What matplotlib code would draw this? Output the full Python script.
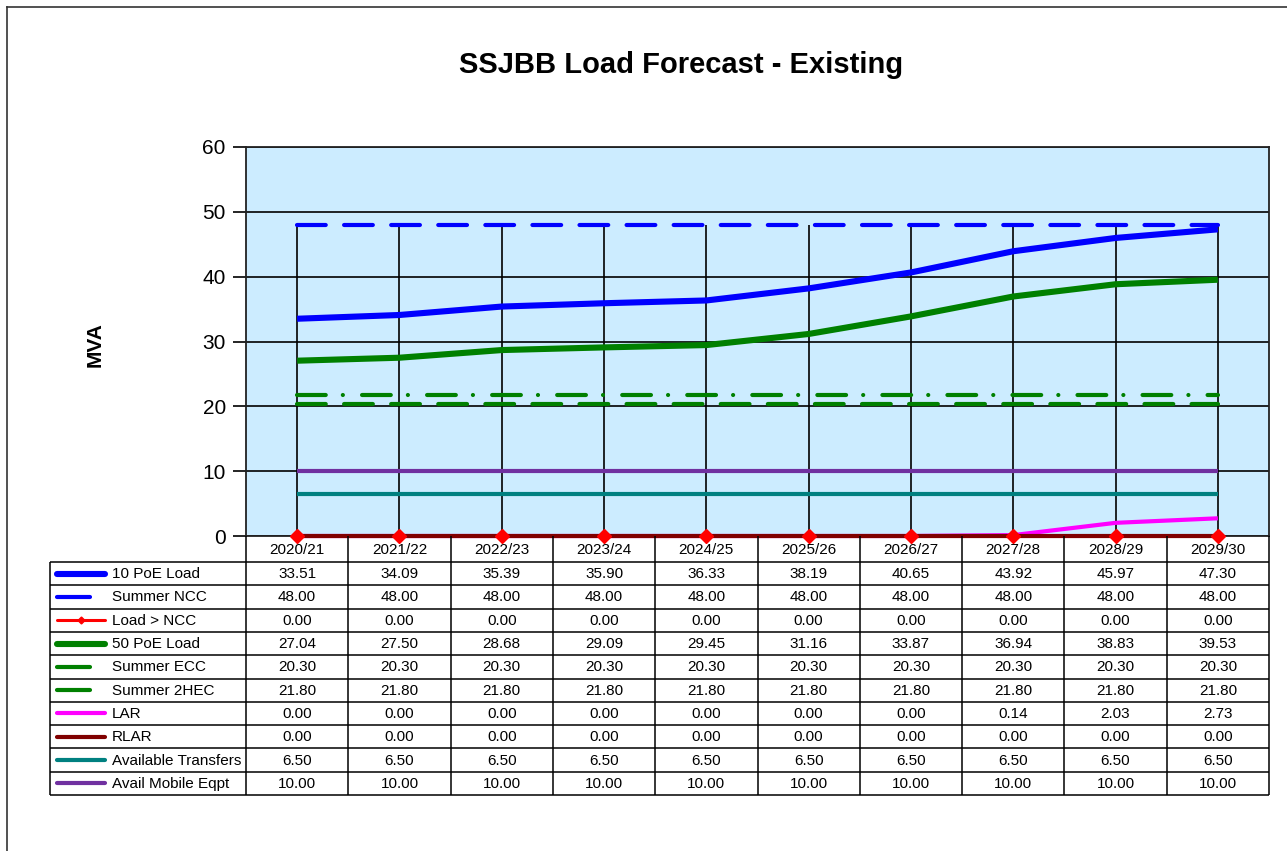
import matplotlib.pyplot as plt
from matplotlib.lines import Line2D

plt.rcParams['font.family'] = ['Liberation Sans', 'DejaVu Sans']

years = ['2020/21', '2021/22', '2022/23', '2023/24', '2024/25',
         '2025/26', '2026/27', '2027/28', '2028/29', '2029/30']

poe10 = [33.51, 34.09, 35.39, 35.90, 36.33, 38.19, 40.65, 43.92, 45.97, 47.30]
ncc = [48.00] * 10
over_ncc = [0.00] * 10
poe50 = [27.04, 27.50, 28.68, 29.09, 29.45, 31.16, 33.87, 36.94, 38.83, 39.53]
ecc = [20.30] * 10
hec2 = [21.80] * 10
lar = [0.00, 0.00, 0.00, 0.00, 0.00, 0.00, 0.00, 0.14, 2.03, 2.73]
rlar = [0.00] * 10
transfers = [6.50] * 10
mobile = [10.00] * 10

names = ['10 PoE Load', 'Summer NCC', 'Load > NCC', '50 PoE Load', 'Summer ECC',
         'Summer 2HEC', 'LAR', 'RLAR', 'Available Transfers', 'Avail Mobile Eqpt']
values = [poe10, ncc, over_ncc, poe50, ecc, hec2, lar, rlar, transfers, mobile]

dash = (0, (6.9, 4.4))
dashdot = (0, (6.9, 4.1, 0.01, 4.6))
# colour, width, linestyle, short legend key
styles = [
    ('#0000FF', 4.4, '-', False),
    ('#0000FF', 3.0, dash, True),
    ('#FF0000', 2.2, '-', False),
    ('#008000', 4.4, '-', False),
    ('#008000', 3.0, dash, True),
    ('#008000', 3.0, dashdot, True),
    ('#FF00FF', 3.0, '-', False),
    ('#800000', 3.0, '-', False),
    ('#008080', 3.0, '-', False),
    ('#7030A0', 3.0, '-', False),
]

W, H = 1287, 851
fig = plt.figure(figsize=(W / 100, H / 100), dpi=100)

def box(l, t, r, b):
    return [l / W, 1 - b / H, (r - l) / W, (b - t) / H]

ax = fig.add_axes(box(246, 147, 1269, 536))
ax.set_facecolor('#CCECFF')
x = list(range(len(years)))

# drop lines from the highest series down to the axis
tops = [max(v[i] for v in values) for i in x]
ax.vlines(x, 0, tops, color='black', lw=1.2, zorder=1.5)

for i, (vals, (col, lw, ls, short)) in enumerate(zip(values, styles)):
    ax.plot(x, vals, color=col, lw=lw, linestyle=ls, dash_capstyle='round',
            solid_capstyle='butt', clip_on=False, zorder=2 + i * 0.1)
ax.plot(x, over_ncc, linestyle='none', marker='D', ms=7, color='#FF0000',
        clip_on=False, zorder=4)

ax.set_xlim(-0.5, 9.5)
ax.set_ylim(0, 60)
ax.set_xticks([])
ax.set_yticks(range(0, 61, 10))
ax.tick_params(axis='y', length=9.5, width=1.2, pad=5, labelsize=15)
ax.yaxis.grid(True, color='black', lw=1.2)
ax.set_axisbelow(True)
for s in ax.spines.values():
    s.set_linewidth(1.3)
    s.set_color('#222222')

fig.text(681 / W, 1 - 65 / H, 'SSJBB Load Forecast - Existing', ha='center',
         va='center', fontsize=21, fontweight='bold')
fig.text(95 / W, 1 - 345 / H, 'MVA', rotation=90, ha='center', va='center',
         fontsize=15, fontweight='bold')

# data table underneath the plot
tax = fig.add_axes(box(50, 536, 1269, 795))
x0 = -0.5 - 196 / 102.3
tax.set_xlim(x0, 9.5)
tax.set_ylim(259, 0)
tax.axis('off')
hdr, rh = 26, 23.3
rows = [hdr + rh * i for i in range(len(names) + 1)]
tax.hlines(rows, x0, 9.5, color='black', lw=1.1, clip_on=False)
tax.vlines([x0], hdr, rows[-1], color='black', lw=1.1, clip_on=False)
tax.vlines([k - 0.5 for k in range(len(years) + 1)], 0, rows[-1], color='black',
           lw=1.1, clip_on=False)

for j, yr in enumerate(years):
    tax.text(j, hdr / 2 + 0.5, yr, ha='center', va='center', fontsize=11)

px = 1 / 102.3
for i, (name, vals, (col, lw, ls, short)) in enumerate(zip(names, values, styles)):
    yc = hdr + rh * (i + 0.5)
    x_end = x0 + (40 if short else 55) * px
    tax.plot([x0 + 7 * px, x_end], [yc, yc], color=col, lw=lw, solid_capstyle='round')
    if name == 'Load > NCC':
        tax.plot([x0 + 31 * px], [yc], marker='D', ms=3.5, color=col)
    tax.text(x0 + 62 * px, yc + 0.5, name, ha='left', va='center', fontsize=11)
    for j, v in enumerate(vals):
        tax.text(j, yc + 0.5, f'{v:.2f}', ha='center', va='center', fontsize=11)

# outer chart border
fig.add_artist(Line2D([7 / W, 7 / W], [0, 1 - 7 / H], transform=fig.transFigure,
                      color='#333333', lw=1.2))
fig.add_artist(Line2D([7 / W, 1], [1 - 7 / H, 1 - 7 / H], transform=fig.transFigure,
                      color='#333333', lw=1.2))

fig.savefig('out.png', dpi=100)
